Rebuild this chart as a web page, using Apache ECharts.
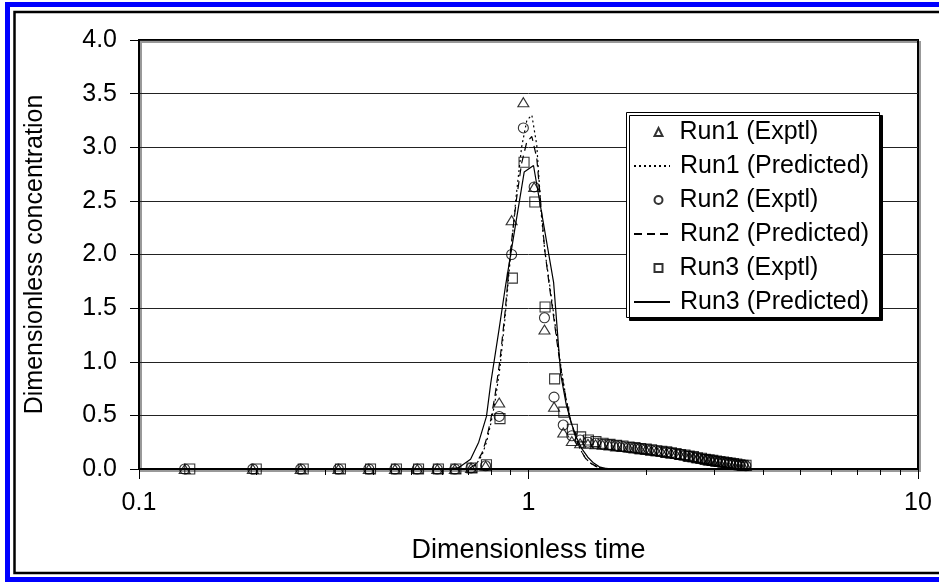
<!DOCTYPE html>
<html>
<head>
<meta charset="utf-8">
<script src="https://cdn.jsdelivr.net/npm/echarts@6/dist/echarts.min.js"></script>
<style>
  html, body { margin: 0; padding: 0; background: #fff; }
  #chart { width: 939px; height: 582px; }
</style>
</head>
<body>
<div id="chart"></div>
<script>
// ---- Data ----
var timeRun12 = [0.131, 0.196, 0.260, 0.325, 0.389, 0.454, 0.518, 0.583, 0.647, 0.712,
  0.776, 0.841, 0.905, 0.970, 1.034, 1.099, 1.163, 1.228, 1.292, 1.357,
  1.421, 1.486, 1.550, 1.615, 1.679, 1.744, 1.808, 1.873, 1.937, 2.002,
  2.066, 2.131, 2.195, 2.260, 2.324, 2.389, 2.453, 2.518, 2.582, 2.647,
  2.711, 2.776, 2.840, 2.905, 2.969, 3.034, 3.098, 3.163, 3.227, 3.292,
  3.356, 3.421, 3.485, 3.550, 3.614];
var timeRun3 = [0.135, 0.200, 0.264, 0.329, 0.393, 0.458, 0.522, 0.587, 0.651, 0.716,
  0.780, 0.845, 0.909, 0.974, 1.038, 1.103, 1.167, 1.232, 1.296, 1.361,
  1.425, 1.490, 1.554, 1.619, 1.683, 1.748, 1.812, 1.877, 1.941, 2.006,
  2.070, 2.135, 2.199, 2.264, 2.328, 2.393, 2.457, 2.522, 2.586, 2.651,
  2.715, 2.780, 2.844, 2.909, 2.973, 3.038, 3.102, 3.167, 3.231, 3.296,
  3.360, 3.425, 3.489, 3.554, 3.618];

var run1Exptl = [0, 0, 0, 0, 0, 0, 0, 0, 0, 0.01,
  0.03, 0.62, 2.32, 3.42, 2.63, 1.30, 0.58, 0.34, 0.26, 0.24,
  0.235, 0.23, 0.225, 0.22, 0.21, 0.205, 0.20, 0.19, 0.185, 0.18,
  0.17, 0.165, 0.16, 0.15, 0.145, 0.14, 0.13, 0.125, 0.115, 0.11,
  0.10, 0.095, 0.09, 0.08, 0.075, 0.07, 0.065, 0.06, 0.055, 0.05,
  0.045, 0.04, 0.035, 0.03, 0.03];
var run2Exptl = [0, 0, 0, 0, 0, 0, 0, 0, 0, 0.01,
  0.03, 0.49, 2.00, 3.18, 2.63, 1.41, 0.67, 0.41, 0.31, 0.27,
  0.25, 0.24, 0.23, 0.225, 0.215, 0.21, 0.20, 0.195, 0.19, 0.18,
  0.175, 0.17, 0.16, 0.155, 0.15, 0.14, 0.135, 0.125, 0.12, 0.11,
  0.105, 0.095, 0.09, 0.085, 0.075, 0.07, 0.065, 0.06, 0.055, 0.05,
  0.045, 0.04, 0.035, 0.035, 0.03];
var run3Exptl = [0, 0, 0, 0, 0, 0, 0, 0, 0, 0.01,
  0.04, 0.47, 1.78, 2.86, 2.49, 1.51, 0.84, 0.53, 0.37, 0.30,
  0.27, 0.255, 0.24, 0.23, 0.22, 0.215, 0.205, 0.20, 0.19, 0.185,
  0.18, 0.17, 0.165, 0.16, 0.15, 0.145, 0.135, 0.13, 0.12, 0.115,
  0.105, 0.10, 0.09, 0.085, 0.08, 0.075, 0.07, 0.065, 0.06, 0.055,
  0.05, 0.045, 0.04, 0.035, 0.035];

var timePred1 = [0.131, 0.60, 0.70, 0.73, 0.76, 0.78, 0.80, 0.82, 0.845, 0.87,
  0.90, 0.93, 0.96, 0.99, 1.02, 1.05, 1.08, 1.10, 1.13, 1.16,
  1.19, 1.22, 1.25, 1.28, 1.32, 1.36, 1.40, 1.45, 1.50, 1.56, 1.65, 3.60];
var run1Pred = [0, 0, 0, 0.03, 0.13, 0.25, 0.42, 0.62, 0.95, 1.40,
  2.00, 2.55, 3.00, 3.25, 3.30, 3.02, 2.35, 2.05, 1.75, 1.45,
  1.15, 0.88, 0.65, 0.47, 0.30, 0.18, 0.10, 0.05, 0.02, 0.005, 0, 0];

var timePred2 = [0.131, 0.60, 0.70, 0.73, 0.76, 0.78, 0.80, 0.82, 0.845, 0.87,
  0.90, 0.93, 0.96, 0.99, 1.02, 1.05, 1.08, 1.10, 1.13, 1.16,
  1.19, 1.22, 1.25, 1.28, 1.32, 1.36, 1.40, 1.45, 1.50, 1.56, 1.65, 3.60];
var run2Pred = [0, 0, 0, 0.04, 0.15, 0.28, 0.46, 0.68, 1.02, 1.45,
  2.05, 2.50, 2.85, 3.05, 3.10, 2.90, 2.40, 2.05, 1.72, 1.42,
  1.12, 0.86, 0.64, 0.46, 0.30, 0.18, 0.10, 0.05, 0.02, 0.005, 0, 0];

var timePred3 = [0.131, 0.60, 0.66, 0.71, 0.745, 0.78, 0.80, 0.84, 0.874, 0.975,
  1.03, 1.16, 1.21, 1.25, 1.29, 1.33, 1.37, 1.42, 1.47, 1.52, 1.58, 1.65, 3.60];
var run3Pred = [0, 0, 0.01, 0.09, 0.25, 0.49, 0.80, 1.30, 1.72, 2.77,
  2.83, 1.74, 0.88, 0.60, 0.42, 0.29, 0.19, 0.11, 0.055, 0.02, 0.005, 0, 0];

var seriesNames = ['Run1 (Exptl)', 'Run1 (Predicted)', 'Run2 (Exptl)', 'Run2 (Predicted)', 'Run3 (Exptl)', 'Run3 (Predicted)'];
var xMajorTicks = [0.1, 1, 10];
var xMinorTicks = [0.2, 0.3, 0.4, 0.5, 0.6, 0.7, 0.8, 0.9, 2, 3, 4, 5, 6, 7, 8, 9];

function pairs(xs, ys) {
  var out = [];
  for (var i = 0; i < xs.length; i++) out.push([xs[i], ys[i]]);
  return out;
}

var FONT = 'Liberation Sans, Arial, sans-serif';
var chart = echarts.init(document.getElementById('chart'), null, { renderer: 'canvas' });

var markerStyle = { color: 'none', borderColor: '#000', borderWidth: 1.1 };

// legend: one component per entry so that symbol entries and line entries can have their own icon sizes
var LEG_LEFT = 626, LEG_TOP = 112, LEG_STEP = 34, LEG_FIRST = 132;
var legends = seriesNames.map(function (name, i) {
  var isLine = name.indexOf('Predicted') >= 0;
  return {
    orient: 'horizontal',
    left: isLine ? 633 : 652,
    top: LEG_FIRST + i * LEG_STEP - 13,
    padding: 0,
    z: 10,
    itemWidth: isLine ? 36 : 8,
    itemHeight: 8,
    selectedMode: false,
    textStyle: { fontFamily: FONT, fontSize: 25, color: '#000', lineHeight: 26,
      padding: [0, 0, 0, isLine ? 5 : 12] },
    data: [isLine ? { name: name, itemStyle: { color: 'transparent', borderWidth: 0, opacity: 0 } } : { name: name }]
  };
});

chart.setOption({
  animation: false,
  backgroundColor: '#fff',
  textStyle: { fontFamily: FONT },
  graphic: [
    { type: 'rect', z: 0, silent: true,
      shape: { x: 7.5, y: 4.5, width: 950, height: 575 },
      style: { fill: 'none', stroke: '#0000ff', lineWidth: 5 } },
    { type: 'rect', z: 0, silent: true,
      shape: { x: 14.5, y: 12, width: 950, height: 561 },
      style: { fill: 'none', stroke: '#000', lineWidth: 2.5 } },
    { type: 'rect', z: 6, silent: true,
      shape: { x: LEG_LEFT + 0.5, y: LEG_TOP + 0.5, width: 253, height: 205 },
      style: { fill: '#fff', stroke: '#000', lineWidth: 1,
        shadowColor: '#000', shadowOffsetX: 3, shadowOffsetY: 3, shadowBlur: 0 } }
  ],
  grid: {
    left: 139, right: 21, top: 40, bottom: 113,
    show: true, backgroundColor: '#fff', borderColor: '#000', borderWidth: 2,
    shadowColor: '#999', shadowOffsetX: 2, shadowOffsetY: 2, shadowBlur: 0,
    outerBoundsMode: 'none'
  },
  legend: legends,
  xAxis: [{
    type: 'log', logBase: 10, min: 0.1, max: 10,
    name: 'Dimensionless time', nameLocation: 'middle', nameGap: 68,
    nameTextStyle: { fontFamily: FONT, fontSize: 27, color: '#000' },
    axisLine: { show: true, onZero: false, lineStyle: { color: '#000', width: 2 } },
    axisTick: { show: true, inside: false, length: 10, lineStyle: { color: '#000', width: 1 },
      customValues: xMajorTicks },
    axisLabel: { fontFamily: FONT, fontSize: 25, color: '#000', margin: 22,
      customValues: xMajorTicks,
      formatter: function (v) { return String(+v.toPrecision(3)); } },
    splitLine: { show: false }
  }, {
    type: 'log', logBase: 10, min: 0.1, max: 10, position: 'bottom', offset: 0,
    axisLine: { show: false },
    axisTick: { show: true, inside: false, length: 6, lineStyle: { color: '#000', width: 1 },
      customValues: xMinorTicks },
    axisLabel: { show: false },
    splitLine: { show: false }
  }],
  yAxis: {
    type: 'value', min: 0, max: 4, interval: 0.5,
    name: 'Dimensionless concentration', nameLocation: 'middle', nameGap: 91,
    nameTextStyle: { fontFamily: FONT, fontSize: 25, color: '#000' },
    axisLine: { show: true, lineStyle: { color: '#000', width: 2 } },
    axisTick: { show: true, inside: false, length: 9, lineStyle: { color: '#000', width: 1 } },
    axisLabel: { fontFamily: FONT, fontSize: 25, color: '#000', margin: 22,
      formatter: function (v) { return v.toFixed(1); } },
    splitLine: { show: true, lineStyle: { color: '#222', width: 1 } }
  },
  series: [
    { name: seriesNames[0], type: 'scatter', symbol: 'triangle', symbolSize: [11, 9],
      itemStyle: markerStyle, data: pairs(timeRun12, run1Exptl), z: 3 },
    { name: seriesNames[1], type: 'line', symbol: 'none', showSymbol: false,
      lineStyle: { color: '#000', width: 1.2, type: [2, 3] }, itemStyle: { color: '#000' },
      data: pairs(timePred1, run1Pred), z: 4 },
    { name: seriesNames[2], type: 'scatter', symbol: 'circle', symbolSize: 10,
      itemStyle: markerStyle, data: pairs(timeRun12, run2Exptl), z: 3 },
    { name: seriesNames[3], type: 'line', symbol: 'none', showSymbol: false,
      lineStyle: { color: '#000', width: 1.2, type: [8, 5] }, itemStyle: { color: '#000' },
      data: pairs(timePred2, run2Pred), z: 4 },
    { name: seriesNames[4], type: 'scatter', symbol: 'rect', symbolSize: 10,
      itemStyle: markerStyle, data: pairs(timeRun3, run3Exptl), z: 3 },
    { name: seriesNames[5], type: 'line', symbol: 'none', showSymbol: false,
      lineStyle: { color: '#000', width: 1.2, type: 'solid' }, itemStyle: { color: '#000' },
      data: pairs(timePred3, run3Pred), z: 4 }
  ]
});
</script>
</body>
</html>
